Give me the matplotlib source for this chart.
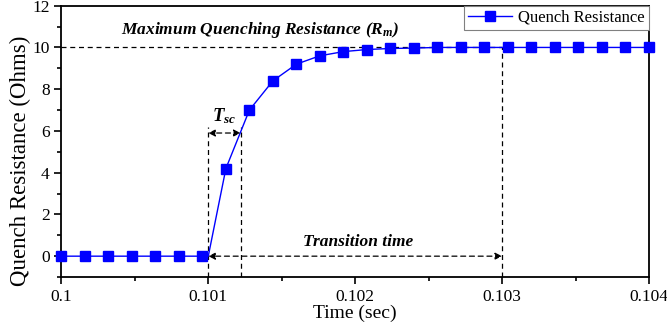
import numpy as np
from matplotlib import pyplot as plt
from matplotlib.ticker import MultipleLocator, FixedLocator

# data
time_s = np.linspace(0.1, 0.104, 26)
resistance = [0, 0, 0, 0, 0, 0, 0,
              4.2, 7.0, 8.4, 9.2, 9.6, 9.8, 9.9, 9.95, 9.97,
              10, 10, 10, 10, 10, 10, 10, 10, 10, 10]
onset_t = 0.101          # where the curve leaves zero
r_max = 10
t_sc_end = 0.10122
t_transition_end = 0.103

plt.rcParams['font.family'] = ['Liberation Serif', 'DejaVu Serif']
plt.rcParams['mathtext.fontset'] = 'custom'
plt.rcParams['mathtext.it'] = 'Liberation Serif:italic:bold'
plt.rcParams['mathtext.rm'] = 'Liberation Serif:bold'

fig, ax = plt.subplots(figsize=(6.67, 3.35), dpi=100)
fig.subplots_adjust(left=0.092, right=0.973, top=0.983, bottom=0.173)

# line passes through the onset point, markers only on the samples
line_t = np.insert(time_s, 7, onset_t)
line_r = np.insert(np.array(resistance, dtype=float), 7, 0)
marks = [i for i in range(len(line_t)) if i != 7]
ax.plot(line_t, line_r, color='#0000ff', lw=1.0, marker='s', ms=7.5,
		markevery=marks, label='Quench Resistance', zorder=3, clip_on=False)

dash = dict(color='black', lw=0.9, ls=(0, (4, 3)))
ax.plot([0.1, t_transition_end], [r_max, r_max], **dash)
ax.plot([t_transition_end, t_transition_end], [-1, r_max], **dash)
ax.plot([onset_t, onset_t], [-1, 6.2], **dash)
ax.plot([t_sc_end, t_sc_end], [-1, 6.2], **dash)

arrow = dict(arrowstyle='<|-|>', color='black', lw=0.9, ls=(0, (4, 3)),
			 mutation_scale=10, shrinkA=0, shrinkB=0)
ax.annotate('', xy=(onset_t, 5.9), xytext=(t_sc_end, 5.9), arrowprops=arrow)
ax.annotate('', xy=(onset_t, 0), xytext=(t_transition_end, 0), arrowprops=arrow)

ax.text(0.10111, 6.7, r'$T_{sc}$', fontsize=13.5, ha='center', va='center')
ax.text(0.10202, 0.7, 'Transition time', fontsize=12.5, fontweight='bold',
		style='italic', ha='center', va='center')
ax.text(0.10135, 10.85, r'Maximum Quenching Resistance ($R_m$)', fontsize=12.5,
		fontweight='bold', style='italic', ha='center', va='center')

ax.set_xlim(0.1, 0.104)
ax.set_ylim(-1, 12)
ax.xaxis.set_major_locator(FixedLocator([0.1, 0.101, 0.102, 0.103, 0.104]))
ax.set_xticklabels(['0.1', '0.101', '0.102', '0.103', '0.104'])
ax.xaxis.set_minor_locator(MultipleLocator(0.0005))
ax.yaxis.set_major_locator(MultipleLocator(2))
ax.yaxis.set_minor_locator(MultipleLocator(1))
ax.tick_params(which='both', direction='out', labelsize=12.5, width=1.2)
ax.tick_params(which='major', length=5)
ax.tick_params(which='minor', length=3)
for s in ax.spines.values():
	s.set_linewidth(1.3)

ax.set_xlabel('Time (sec)', fontsize=14, labelpad=0)
ax.set_ylabel('Quench Resistance (Ohms)', fontsize=16.5)
ax.yaxis.set_label_coords(-0.052, 0.43)

leg = ax.legend(loc='upper right', fontsize=12, fancybox=False, borderaxespad=0,
				edgecolor='gray', framealpha=1, handlelength=2.6,
				borderpad=0.25, handletextpad=0.4)
leg.get_frame().set_linewidth(0.8)

fig.savefig('out.png', dpi=100)
